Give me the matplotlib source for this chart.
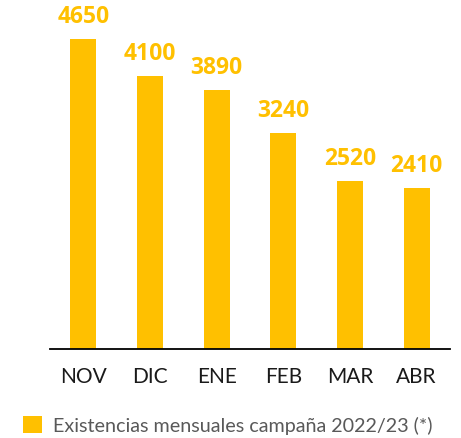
import matplotlib.pyplot as plt

months = ["NOV", "DIC", "ENE", "FEB", "MAR", "ABR"]
stocks = [4650, 4100, 3890, 3240, 2520, 2410]
series_label = "Existencias mensuales campaña 2022/23 (*)"

GOLD = "#FFC000"
plt.rcParams["font.family"] = ["Lato", "DejaVu Sans"]

fig = plt.figure(figsize=(4.61, 4.39), dpi=100)
ax = fig.add_axes([50 / 461, 1 - 350 / 439, 400 / 461, 350 / 439])

bars = ax.bar(range(len(months)), stocks, width=0.39, color=GOLD, label=series_label)
ax.bar_label(bars, labels=[str(v) for v in stocks], padding=8,
             color=GOLD, fontsize=16.5, fontweight="bold",
             family=["Open Sans", "DejaVu Sans"])

ax.set_xlim(-0.5, len(months) - 0.5)
ax.set_ylim(0, 5250)
ax.set_xticks(range(len(months)))
ax.set_xticklabels(months, fontsize=15, color="#1a1a1a")
ax.tick_params(axis="x", length=0, pad=12)
ax.set_yticks([])
for side in ["left", "right", "top"]:
    ax.spines[side].set_visible(False)
ax.spines["bottom"].set_color("black")
ax.spines["bottom"].set_linewidth(1.3)

leg = fig.legend(handles=[bars], labels=[series_label], loc="center left",
                 bbox_to_anchor=(23 / 461, 1 - 426 / 439), frameon=False,
                 fontsize=14.2, handlelength=0.95, handleheight=0.95,
                 handletextpad=0.55, borderpad=0, borderaxespad=0)
for t in leg.get_texts():
    t.set_color("#595959")

fig.savefig("out.png", dpi=100)
